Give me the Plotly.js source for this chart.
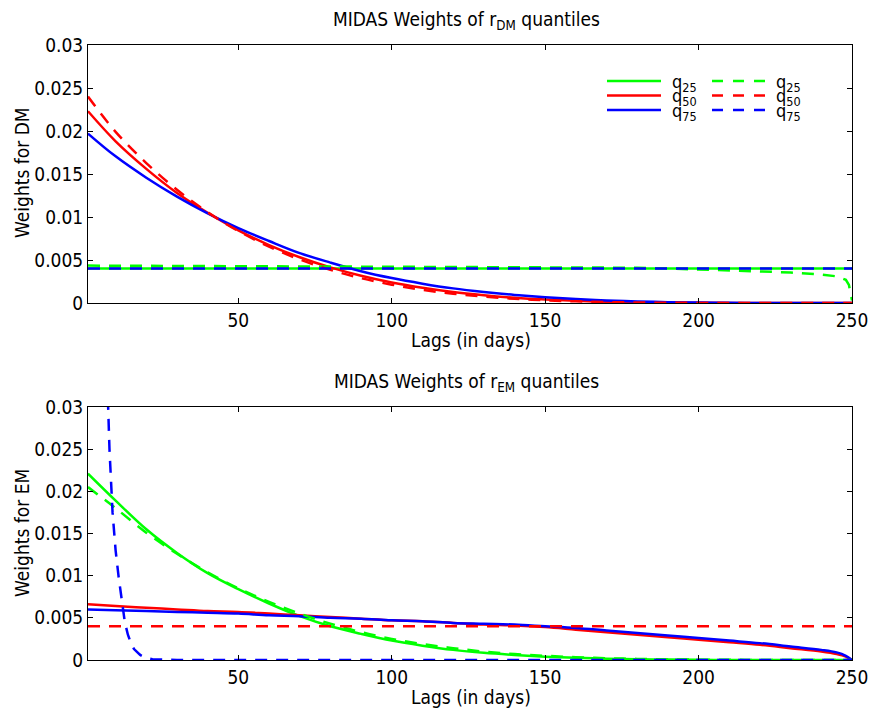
<!DOCTYPE html>
<html><head><meta charset="utf-8">
<script src="https://cdn.plot.ly/plotly-3.0.1.min.js"></script>
<style>html,body{margin:0;padding:0;background:#fff}</style>
</head><body><div id="chart" style="width:869px;height:715px"></div>
<script>
// ---------- data ----------
const lags = [1,10,20,30,40,50,60,70,80,90,100,110,120,130,140,150,160,170,180,190,200,210,220,230,240,250];
const flatLags = [1,250];
const xTicks = [50,100,150,200,250];
const xTickText = ['50','100','150','200','250'];
const yTicks = [0,0.005,0.01,0.015,0.02,0.025,0.03];
const yTickText = ['0','0.005','0.01','0.015','0.02','0.025','0.03'];
const legendLabels = ['q<sub>25</sub>','q<sub>50</sub>','q<sub>75</sub>'];

// DM panel
const dmQ25Solid = [0.004,0.004];
const dmQ50Solid = [0.0223,0.0188,0.0156,0.0128,0.0105,0.00845,0.00674,0.00532,0.00414,0.00317,0.00239,0.00177,0.00127,0.0009,0.00061,0.0004,0.00025,0.00015,0.00008,0.00004,0.00002,0.00001,0,0,0,0];
const dmQ75Solid = [0.0197,0.01705,0.01457,0.01237,0.01042,0.00871,0.00721,0.0058,0.0047,0.0037,0.0029,0.00225,0.0017,0.00128,0.00094,0.00067,0.00046,0.0003,0.00018,0.0001,0.00005,0.00002,0.00001,0,0,0];
const dmQ25DashLags = [1,50,100,150,180,200,210,220,230,240,245,248,249,250];
const dmQ25Dash = [0.00435,0.0043,0.00425,0.0042,0.0041,0.0039,0.0038,0.0037,0.00355,0.0033,0.0031,0.0027,0.0021,0.0003];
const dmQ50Dash = [0.0240,0.0199,0.01627,0.01317,0.01055,0.00837,0.00656,0.00506,0.00385,0.00289,0.00213,0.00153,0.00108,0.00074,0.00049,0.00031,0.00019,0.00011,0.00006,0.00003,0.00001,0,0,0,0,0];
const dmQ75Dash = [0.004,0.004];

// EM panel
const emLags = [1,10,20,30,40,50,60,70,80,90,100,110,120,130,140,150,160,170,180,190,200,210,220,230,240,245,248,250];
const emQ25Solid = [0.0221,0.0189,0.0155,0.0127,0.0103,0.0084,0.0067,0.0052,0.0040,0.0031,0.0023,0.0017,0.0012,0.00085,0.0006,0.0004,0.00026,0.00016,0.0001,0.00005,0.00002,0.00001,0,0,0,0];
const emQ50Solid = [0.0066,0.0064,0.0062,0.0060,0.0058,0.0057,0.0055,0.0053,0.0051,0.0049,0.0047,0.0046,0.0044,0.0042,0.0041,0.0039,0.0036,0.0033,0.0030,0.0027,0.0024,0.0021,0.0018,0.0014,0.0010,0.0007,0.0004,0];
const emQ75Solid = [0.0060,0.0059,0.0058,0.0057,0.0056,0.0055,0.0053,0.0052,0.0050,0.0049,0.0047,0.0046,0.0044,0.0043,0.0042,0.0040,0.0038,0.0035,0.0032,0.0029,0.0026,0.0023,0.0020,0.0016,0.0012,0.0009,0.0005,0];
const emQ25Dash = [0.0205,0.0180,0.0151,0.0126,0.0104,0.0085,0.0069,0.0055,0.0043,0.0033,0.0025,0.0019,0.0014,0.0010,0.0007,0.0005,0.00033,0.00021,0.00013,0.00007,0.00004,0.00002,0.00001,0,0,0];
const emQ50Dash = [0.004,0.004];
const emQ75DashLags = [1,2,3,4,5,6,7,8,9,10,11,12,13,14,15,16,17,18,19,20,22,25,30,40,60,100,150,200,250];
const emQ75Dash = [0.30,0.20,0.13,0.09,0.065,0.048,0.036,0.025,0.0175,0.013,0.0098,0.0068,0.0045,0.0030,0.0020,0.0013,0.0009,0.0006,0.0004,0.00025,0.0001,0.00003,0,0,0,0,0,0,0];

// ---------- styling ----------
const FONT = "'Liberation Sans Narrow', 'DejaVu Sans Condensed', 'Arial Narrow', sans-serif";
const GREEN = '#00ff00', RED = '#ff0000', BLUE = '#0000ff';
const DASH = '12px,9px';
const LW = 2.5;

function tr(x, y, color, dashed, xa, ya, shape) {
  return {type:'scatter', mode:'lines', x:x, y:y, xaxis:xa, yaxis:ya,
    line:{color:color, width:LW, dash: dashed ? DASH : 'solid', shape: shape || 'spline', smoothing:1},
    showlegend:false, hoverinfo:'skip', cliponaxis:true};
}

const data = [
  tr(flatLags, dmQ25Solid, GREEN, false, 'x', 'y', 'linear'),
  tr(lags, dmQ50Solid, RED, false, 'x', 'y'),
  tr(lags, dmQ75Solid, BLUE, false, 'x', 'y'),
  tr(dmQ25DashLags, dmQ25Dash, GREEN, true, 'x', 'y', 'linear'),
  tr(lags, dmQ50Dash, RED, true, 'x', 'y'),
  tr(flatLags, dmQ75Dash, BLUE, true, 'x', 'y', 'linear'),

  tr(lags, emQ25Solid, GREEN, false, 'x2', 'y2'),
  tr(emLags, emQ50Solid, RED, false, 'x2', 'y2'),
  tr(emLags, emQ75Solid, BLUE, false, 'x2', 'y2'),
  tr(lags, emQ25Dash, GREEN, true, 'x2', 'y2'),
  tr(flatLags, emQ50Dash, RED, true, 'x2', 'y2', 'linear'),
  tr(emQ75DashLags, emQ75Dash, BLUE, true, 'x2', 'y2', 'linear')
];

const tickFont = {family:FONT, size:19, color:'#000'};
function xax(anchor) {
  return {anchor:anchor, domain:[0,1], range:[1,250], tickvals:xTicks, ticktext:xTickText, ticks:'inside', ticklen:5,
    tickcolor:'#000', tickwidth:1, showline:true, linecolor:'#000', linewidth:1, mirror:'ticks',
    showgrid:false, zeroline:false, tickfont:tickFont, fixedrange:true, ticklabeloverflow:'allow'};
}
function yax(anchor, dom) {
  return {anchor:anchor, domain:dom, range:[0,0.03], tickvals:yTicks, ticktext:yTickText, ticks:'inside', ticklen:5,
    tickcolor:'#000', tickwidth:1, showline:true, linecolor:'#000', linewidth:1, mirror:'ticks',
    showgrid:false, zeroline:false, tickfont:tickFont, fixedrange:true, ticklabeloverflow:'allow'};
}

// pixel -> paper helpers for text placement
const L = 88, R = 852, T = 45, B = 660;
const px = v => (v - L) / (R - L);
const py = v => (B - v) / (B - T);

const txtFont = {family:FONT, size:19, color:'#000'};
const annotations = [
  {text:'MIDAS Weights of r<sub>DM</sub> quantiles', x:px(466), y:py(21), xref:'paper', yref:'paper', showarrow:false, xanchor:'center', yanchor:'middle', font:txtFont},
  {text:'MIDAS Weights of r<sub>EM</sub> quantiles', x:px(466), y:py(382), xref:'paper', yref:'paper', showarrow:false, xanchor:'center', yanchor:'middle', font:txtFont},
  {text:'Lags (in days)', x:px(471), y:py(340), xref:'paper', yref:'paper', showarrow:false, xanchor:'center', yanchor:'middle', font:txtFont},
  {text:'Lags (in days)', x:px(471), y:py(697), xref:'paper', yref:'paper', showarrow:false, xanchor:'center', yanchor:'middle', font:txtFont},
  {text:'Weights for DM', x:px(22), y:py(173), xref:'paper', yref:'paper', showarrow:false, xanchor:'center', yanchor:'middle', textangle:-90, font:txtFont},
  {text:'Weights for EM', x:px(22), y:py(533), xref:'paper', yref:'paper', showarrow:false, xanchor:'center', yanchor:'middle', textangle:-90, font:txtFont}
];

// legend (two columns: solid, dashed)
const legColors = [GREEN, RED, BLUE];
const rowY = [81, 95.5, 110];
const shapes = [];
for (let i = 0; i < 3; i++) {
  shapes.push({type:'line', xref:'paper', yref:'paper', x0:px(607), x1:px(661), y0:py(rowY[i]), y1:py(rowY[i]), line:{color:legColors[i], width:LW}});
  shapes.push({type:'line', xref:'paper', yref:'paper', x0:px(712), x1:px(765), y0:py(rowY[i]), y1:py(rowY[i]), line:{color:legColors[i], width:LW, dash:'11px,10px'}});
  annotations.push({text:legendLabels[i], x:px(670), y:py(rowY[i]+2), xref:'paper', yref:'paper', showarrow:false, xanchor:'left', yanchor:'middle', font:{family:FONT, size:18, color:'#000'}});
  annotations.push({text:legendLabels[i], x:px(774), y:py(rowY[i]+2), xref:'paper', yref:'paper', showarrow:false, xanchor:'left', yanchor:'middle', font:{family:FONT, size:18, color:'#000'}});
}

const layout = {
  width:869, height:715,
  margin:{l:L, r:869-R, t:T, b:715-B, pad:0},
  paper_bgcolor:'#fff', plot_bgcolor:'#fff',
  showlegend:false,
  xaxis: xax('y'),
  yaxis: yax('x', [py(303), 1]),
  xaxis2: xax('y2'),
  yaxis2: yax('x2', [0, py(407)]),
  annotations: annotations,
  shapes: shapes,
  font:{family:FONT}
};

Plotly.newPlot('chart', data, layout, {staticPlot:true, displayModeBar:false});
</script>
</body></html>
